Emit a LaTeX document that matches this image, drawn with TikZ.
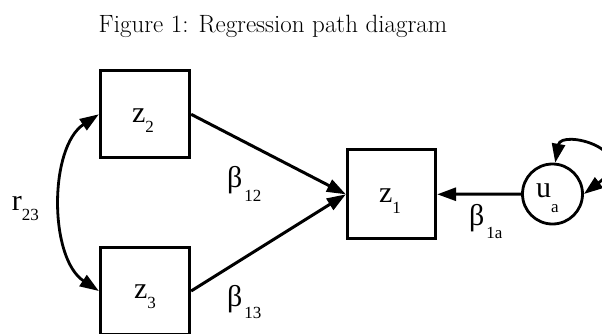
\documentclass[tikz,border=0pt]{standalone}
\usepackage{fontspec}
\newfontfamily\tms{Liberation Serif}
\usetikzlibrary{arrows.meta}
\newcommand\mylab[4]{{\tms\fontsize{30}{30}\selectfont #1}\hspace{#4pt}\raisebox{-#3pt}{\tms\fontsize{17}{17}\selectfont #2}}
\tikzset{
  varbox/.style={draw, line width=3.3pt, minimum width=89pt, minimum height=87pt, inner sep=0pt},
  errcirc/.style={draw, circle, line width=2.8pt, minimum size=60pt, inner sep=0pt},
  lbl/.style={anchor=base west, inner sep=0pt, outer sep=0pt},
  path/.style={line width=3pt, -{Triangle[length=19pt,width=13pt]}},
  cov/.style={line width=2.8pt, {Triangle[length=19pt,width=13pt]}-{Triangle[length=19pt,width=13pt]}}
}
\begin{document}
\begin{tikzpicture}[x=1pt,y=-1pt]
\clip (0,0) rectangle (602,333);
\useasboundingbox (0,0) rectangle (602,333);
\node[anchor=base, inner sep=0pt, font=\fontsize{25}{25}\selectfont] (title) at (273,32) {Figure 1: Regression path diagram};
% boxes
\node[varbox] (z2) at (145,114.3) {};
\node[varbox] (z3) at (145,291) {};
\node[varbox, minimum width=88pt, minimum height=89pt] (z1) at (391.5,194.3) {};
\node[errcirc] (ua) at (552.5,194) {};
% labels
\node[lbl] (lz2) at (132,122) {\mylab{z}{2}{10}{0}};
\node[lbl] (lz3) at (134,298) {\mylab{z}{3}{10}{0}};
\node[lbl] (lz1) at (379,202) {\mylab{z}{1}{11}{0}};
\node[lbl] (lua) at (536,197) {\mylab{u}{a}{15}{0}};
\node[lbl] (lr) at (12,210) {\mylab{r}{23}{10}{0}};
\node[lbl] (lb12) at (227,187) {\mylab{β}{12}{14}{2}};
\node[lbl] (lb13) at (227,306) {\mylab{β}{13}{12}{2}};
\node[lbl] (lb1a) at (469,225) {\mylab{β}{1a}{13}{2}};
% connectors
\draw[path] (z2.east) -- (z1.west);
\draw[path] (z3.east) -- (z1.west);
\draw[path] (ua.west) -- (z1.east);
\draw[cov] (z2.west) .. controls +(-50,33) and +(-50,-33) .. (z3.west);
\draw[cov] (ua.85) .. controls +(6,-34) and +(58,-44) .. (ua.east);
\end{tikzpicture}
\end{document}
